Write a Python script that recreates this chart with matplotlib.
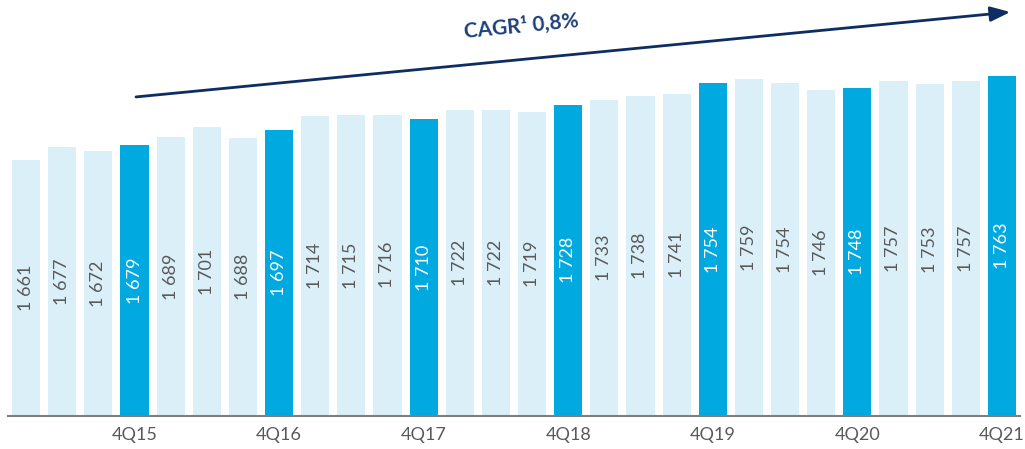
#%% Import Libraries
import matplotlib.pyplot as plt

#%% Data
values = [1661, 1677, 1672, 1679, 1689, 1701, 1688, 1697, 1714, 1715, 1716, 1710,
          1722, 1722, 1719, 1728, 1733, 1738, 1741, 1754, 1759, 1754, 1746, 1748,
          1757, 1753, 1757, 1763]
highlight = [3, 7, 11, 15, 19, 23, 27]
tick_labels = ['4Q15', '4Q16', '4Q17', '4Q18', '4Q19', '4Q20', '4Q21']
cagr_text = 'CAGR¹ 0,8%'

light = '#DAEFF8'
dark = '#00A9E0'
navy = '#0E2D63'

plt.rcParams['font.family'] = ['Lato', 'DejaVu Sans']

fig = plt.figure(figsize=(10.25, 4.49), dpi=100)
ax = fig.add_axes([8 / 1025, 33 / 449, 1012 / 1025, 416 / 449])

x = list(range(len(values)))
colors = [dark if i in highlight else light for i in x]
ax.bar(x, [v - 1350 for v in values], bottom=1350, width=0.775, color=colors)

# value labels, vertical, centered in bars
for i, v in enumerate(values):
    label = '{} {:03d}'.format(v // 1000, v % 1000)
    ax.text(i, (1350 + v) / 2, label, rotation=90, ha='center', va='center',
            fontsize=13, color='white' if i in highlight else '#595959')

ax.set_xlim(-0.5, len(values) - 0.5)
ax.set_ylim(1350, 1855)
ax.set_xticks(highlight)
ax.set_xticklabels(tick_labels, fontsize=13, color='#595959')
ax.tick_params(axis='x', length=0, pad=8)
ax.set_yticks([])
for s in ['top', 'right', 'left']:
    ax.spines[s].set_visible(False)
ax.spines['bottom'].set_color('#7F7F7F')
ax.spines['bottom'].set_linewidth(1.5)

# CAGR arrow
ax.annotate('', xy=(0.9905, 0.971), xytext=(0.1265, 0.767), xycoords='axes fraction',
            arrowprops=dict(arrowstyle='-|>,head_length=1.2,head_width=0.45',
                            color=navy, lw=2, shrinkA=0, shrinkB=0),
            annotation_clip=False)
fig.text(521 / 1025, 1 - 26 / 449, cagr_text, rotation=5.5, ha='center', va='center',
         fontsize=15, fontweight='bold', color='#1F3F7A')

plt.savefig("out.png")
